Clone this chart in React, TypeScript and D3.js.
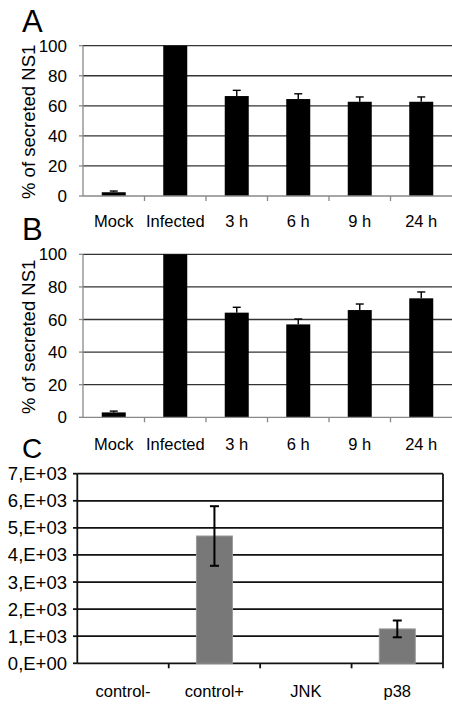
import { useEffect, useRef } from 'react';
import * as d3 from 'd3';

const timeCats = ['Mock', 'Infected', '3 h', '6 h', '9 h', '24 h'];
const valuesA = [2.5, 100, 66.5, 64.5, 62.7, 62.7];
const errorsA = [0.8, 0, 3.8, 3.5, 3.2, 3.2];
const valuesB = [3, 100, 64.2, 57, 65.8, 73];
const errorsB = [0.8, 0, 3.3, 3.3, 3.7, 3.9];
const ticksAB = [0, 20, 40, 60, 80, 100];

const kinaseCats = ['control-', 'control+', 'JNK', 'p38'];
const valuesC = [0, 4700, 0, 1270];
const errorsC = [0, 1100, 0, 310];
const ticksC = [0, 1000, 2000, 3000, 4000, 5000, 6000, 7000];
const tickLabelsC = ['0,E+00', '1,E+03', '2,E+03', '3,E+03', '4,E+03', '5,E+03', '6,E+03', '7,E+03'];

const FONT = '"Liberation Sans", Arial, Helvetica, sans-serif';

export default function App() {
    const ref = useRef<SVGSVGElement | null>(null);

    useEffect(() => {
        if (!ref.current) return;
        const svg = d3.select(ref.current);
        svg.selectAll('*').remove();

        // panels A and B share the same layout
        const drawPercentPanel = (letter: string, values: number[], errors: number[], top: number, bottom: number, letterY: number, labelY: number) => {
            const g = svg.append('g');
            const x = d3.scaleBand().domain(timeCats).range([83, 452]);
            const y = d3.scaleLinear().domain([0, 100]).range([bottom, top]);
            const barW = 24;

            g.append('text')
                .attr('x', 22).attr('y', letterY)
                .attr('font-family', FONT).attr('font-size', 31)
                .text(letter);

            // gridlines
            g.selectAll('.grid').data(ticksAB.slice(1)).enter().append('line')
                .attr('x1', x.range()[0]).attr('x2', 452)
                .attr('y1', d => y(d)).attr('y2', d => y(d))
                .attr('stroke', '#333').attr('stroke-width', 1.3);

            // y axis
            g.append('line')
                .attr('x1', x.range()[0]).attr('x2', x.range()[0])
                .attr('y1', y(100)).attr('y2', y(0))
                .attr('stroke', '#888').attr('stroke-width', 1.3);
            g.selectAll('.ytick').data(ticksAB).enter().append('line')
                .attr('x1', x.range()[0] - 4).attr('x2', x.range()[0])
                .attr('y1', d => y(d)).attr('y2', d => y(d))
                .attr('stroke', '#888').attr('stroke-width', 1.3);
            g.selectAll('.ylab').data(ticksAB).enter().append('text')
                .attr('x', 67).attr('y', d => y(d) + 6)
                .attr('text-anchor', 'end')
                .attr('font-family', FONT).attr('font-size', 17)
                .text(d => d);

            // y title
            g.append('text')
                .attr('transform', `translate(35,${(top + bottom) / 2 + 1}) rotate(-90)`)
                .attr('text-anchor', 'middle')
                .attr('font-family', FONT).attr('font-size', 18.5)
                .text('% of secreted NS1');

            // error bars (upper part shows above the bar)
            timeCats.forEach((c, i) => {
                if (!errors[i]) return;
                const cx = (x(c) as number) + x.bandwidth() / 2;
                g.append('line')
                    .attr('x1', cx).attr('x2', cx)
                    .attr('y1', y(values[i] + errors[i])).attr('y2', y(values[i]))
                    .attr('stroke', '#000').attr('stroke-width', 1.4);
                g.append('line')
                    .attr('x1', cx - 4).attr('x2', cx + 4)
                    .attr('y1', y(values[i] + errors[i])).attr('y2', y(values[i] + errors[i]))
                    .attr('stroke', '#000').attr('stroke-width', 1.4);
            });

            // bars
            g.selectAll('.bar').data(timeCats).enter().append('rect')
                .attr('x', d => (x(d) as number) + x.bandwidth() / 2 - barW / 2)
                .attr('width', barW)
                .attr('y', (d, i) => y(values[i]))
                .attr('height', (d, i) => y(0) - y(values[i]))
                .attr('fill', '#000');

            // baseline axis + ticks at band edges
            g.append('line')
                .attr('x1', x.range()[0]).attr('x2', 452)
                .attr('y1', y(0)).attr('y2', y(0))
                .attr('stroke', '#888').attr('stroke-width', 1.3);
            g.selectAll('.xtick').data(timeCats.slice(1)).enter().append('line')
                .attr('x1', d => x(d) as number).attr('x2', d => x(d) as number)
                .attr('y1', y(0)).attr('y2', y(0) + 5)
                .attr('stroke', '#888').attr('stroke-width', 1.3);

            g.selectAll('.xlab').data(timeCats).enter().append('text')
                .attr('x', d => (x(d) as number) + x.bandwidth() / 2)
                .attr('y', labelY)
                .attr('text-anchor', 'middle')
                .attr('font-family', FONT).attr('font-size', 16.5)
                .text(d => d);
        };

        drawPercentPanel('A', valuesA, errorsA, 45.7, 196, 32, 227);
        drawPercentPanel('B', valuesB, errorsB, 254.3, 417.3, 240, 450);

        // panel C
        const gc = svg.append('g');
        const xc = d3.scaleBand().domain(kinaseCats).range([77.3, 443]);
        const yc = d3.scaleLinear().domain([0, 7000]).range([663.3, 473.7]);
        const barWC = 36;

        gc.append('text')
            .attr('x', 22).attr('y', 457.5)
            .attr('font-family', FONT).attr('font-size', 28)
            .text('C');

        gc.selectAll('.grid').data(ticksC).enter().append('line')
            .attr('x1', 77.3).attr('x2', 443)
            .attr('y1', d => yc(d)).attr('y2', d => yc(d))
            .attr('stroke', '#111').attr('stroke-width', 1.8);
        gc.selectAll('.ytick').data(ticksC).enter().append('line')
            .attr('x1', 73).attr('x2', 77.3)
            .attr('y1', d => yc(d)).attr('y2', d => yc(d))
            .attr('stroke', '#111').attr('stroke-width', 1.8);
        gc.selectAll('.ylab').data(ticksC).enter().append('text')
            .attr('x', 67).attr('y', d => yc(d) + 6.5)
            .attr('text-anchor', 'end')
            .attr('font-family', FONT).attr('font-size', 18.5)
            .text((d, i) => tickLabelsC[i]);

        // frame sides
        gc.append('line')
            .attr('x1', 77.3).attr('x2', 77.3)
            .attr('y1', yc(7000)).attr('y2', yc(0))
            .attr('stroke', '#111').attr('stroke-width', 1.8);
        gc.append('line')
            .attr('x1', 443).attr('x2', 443)
            .attr('y1', yc(7000)).attr('y2', yc(0) + 5)
            .attr('stroke', '#111').attr('stroke-width', 1.8);
        gc.selectAll('.xtick').data(kinaseCats.slice(1)).enter().append('line')
            .attr('x1', d => xc(d) as number).attr('x2', d => xc(d) as number)
            .attr('y1', yc(0)).attr('y2', yc(0) + 5)
            .attr('stroke', '#111').attr('stroke-width', 1.8);

        gc.selectAll('.bar').data(kinaseCats.filter((d, i) => valuesC[i] > 0)).enter().append('rect')
            .attr('x', d => (xc(d) as number) + xc.bandwidth() / 2 - barWC / 2)
            .attr('width', barWC)
            .attr('y', d => yc(valuesC[kinaseCats.indexOf(d)]))
            .attr('height', d => yc(0) - yc(valuesC[kinaseCats.indexOf(d)]))
            .attr('fill', '#787878')
            .attr('stroke', '#9a9a9a').attr('stroke-width', 1);

        kinaseCats.forEach((c, i) => {
            if (!errorsC[i]) return;
            const cx = (xc(c) as number) + xc.bandwidth() / 2;
            const hi = yc(valuesC[i] + errorsC[i]);
            const lo = yc(valuesC[i] - errorsC[i]);
            gc.append('line').attr('x1', cx).attr('x2', cx).attr('y1', hi).attr('y2', lo)
                .attr('stroke', '#000').attr('stroke-width', 2);
            [hi, lo].forEach(yy => {
                gc.append('line').attr('x1', cx - 4.5).attr('x2', cx + 4.5).attr('y1', yy).attr('y2', yy)
                    .attr('stroke', '#000').attr('stroke-width', 2);
            });
        });

        gc.selectAll('.xlab').data(kinaseCats).enter().append('text')
            .attr('x', d => (xc(d) as number) + xc.bandwidth() / 2)
            .attr('y', 697)
            .attr('text-anchor', 'middle')
            .attr('font-family', FONT).attr('font-size', 16.5)
            .text(d => d);
    }, []);

    return (
        <svg
            ref={ref}
            width={452}
            height={706}
            style={{ position: 'absolute', left: 0, top: 0, background: '#fff' }}
        />
    );
}
